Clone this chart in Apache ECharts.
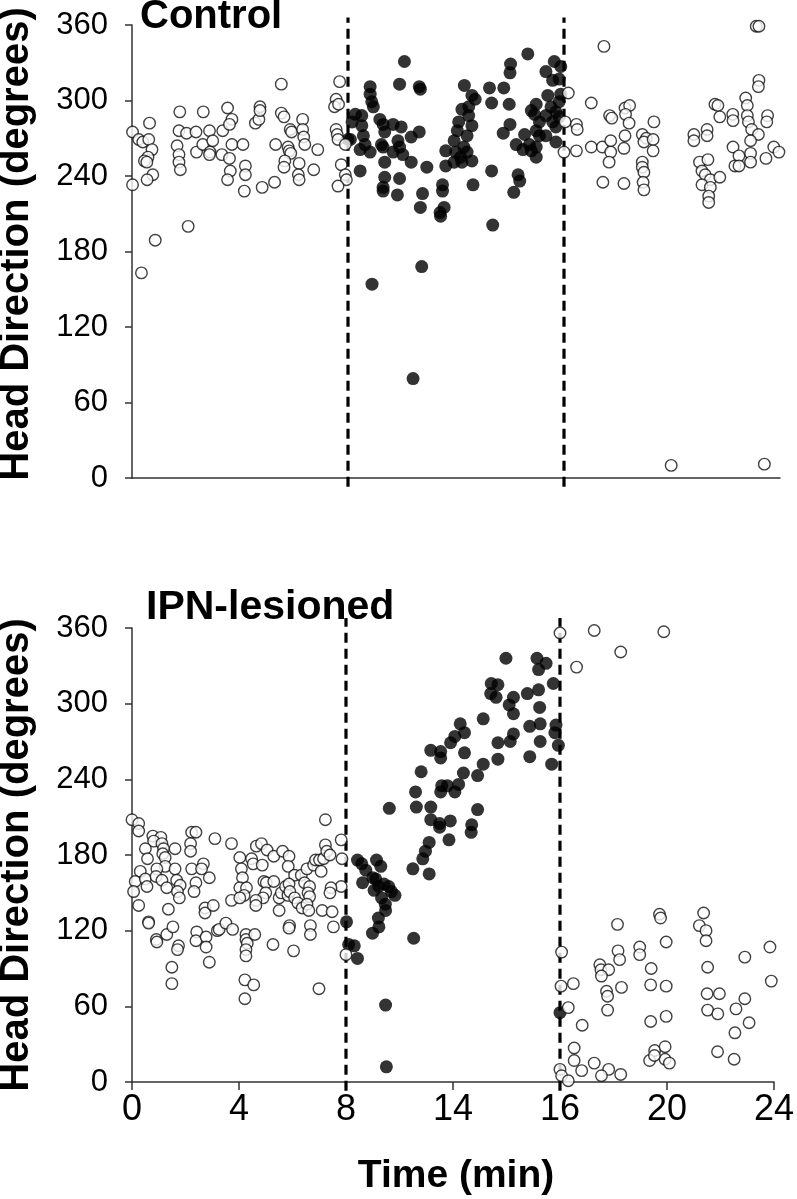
<!DOCTYPE html>
<html>
<head>
<meta charset="utf-8">
<script src="https://cdn.jsdelivr.net/npm/echarts@6/dist/echarts.min.js"></script>
<style>
html,body{margin:0;padding:0;background:#fff;}
#chart{width:797px;height:1199px;}
</style>
</head>
<body>
<div id="chart"></div>
<script>
// ---- Data (time in min, head direction in degrees) ----
const xTickValues = [0, 4, 8, 12, 16, 20, 24];
const xTickLabels = ['0', '4', '8', '14', '16', '20', '24'];
const boundaryTimes = [8, 16];
const boundarySpanTop = [-7, 366];
const boundarySpanBottom = [-7, 368];

const controlOpen = [
[0.02,275],[0.02,233],[0.25,269],[0.4,267],[0.65,282],[0.62,269],[0.74,261],[0.59,255],[0.46,252],[0.55,251],
[0.77,241],[0.56,237],[0.86,189],[0.35,163],[2.08,200],[1.77,291],[1.74,276],[2.02,274],[2.37,275],[1.67,264],
[1.74,257],[1.74,251],[1.79,245],[2.39,259],[2.64,291],[2.62,265],[2.87,276],[2.99,268],[2.89,259],[2.87,257],
[3.33,257],[3.36,276],[3.54,294],[3.7,285],[3.61,281],[3.7,265],[3.61,254],[3.64,244],[3.54,237],[4.11,265],
[4.2,248],[4.2,241],[4.16,228],[4.57,282],[4.7,285],[4.74,295],[4.74,292],[4.82,231],[5.28,235],[5.32,265],
[5.53,313],[5.53,290],[5.63,287],[5.86,277],[5.91,275],[5.78,263],[5.82,260],[5.88,258],[5.66,252],[5.63,247],
[6.32,285],[6.32,277],[6.36,271],[6.4,265],[6.19,250],[6.16,241],[6.19,237],[6.73,245],[6.88,261],[7.69,315],
[7.56,301],[7.5,295],[7.65,297],[7.56,277],[7.6,273],[7.63,269],[7.75,249],[7.9,241],[7.94,237],[7.63,232],
[7.9,265],
[16.16,306],[16.04,283],[16.46,281],[16.49,277],[16.0,259],[16.46,260],[17.48,343],[17.01,298],[17.01,263],[17.42,263],
[17.73,268],[17.73,259],[17.67,251],[17.44,235],[18.22,234],[17.69,288],[17.77,286],[18.26,294],[18.43,296],[18.28,289],
[18.41,282],[18.26,272],[18.22,262],[18.9,273],[19.05,270],[18.96,267],[19.3,269],[19.33,283],[19.3,260],[18.9,251],
[18.9,247],[18.96,243],[18.93,235],[18.96,229],[20.81,273],[20.81,268],[21.3,277],[21.3,272],[21.02,251],[21.33,253],
[21.11,244],[21.23,241],[21.42,237],[21.11,233],[21.42,231],[21.36,224],[21.36,219],[21.77,239],[21.59,297],[21.7,296],
[21.77,287],[22.25,289],[22.26,284],[22.73,302],[22.79,296],[22.79,288],[22.83,283],[22.95,277],[23.2,273],[22.91,268],
[22.26,263],[22.48,256],[22.33,248],[22.48,248],[22.91,258],[22.91,251],[23.54,288],[23.51,283],[23.77,263],[23.96,259],
[23.48,254],[23.22,316],[23.2,311],[23.12,359],[23.22,359],[19.97,10],[23.42,11]
];

const controlFilled = [
[8.0,269],[10.09,331],[9.91,313],[10.64,311],[10.68,309],[8.82,311],[8.82,305],[8.88,299],[8.94,295],[8.27,289],
[8.15,283],[8.51,288],[8.51,280],[8.57,272],[8.63,265],[8.09,269],[8.45,261],[8.82,259],[8.45,244],[9.18,285],
[9.3,281],[9.36,275],[9.67,281],[9.97,279],[9.24,265],[9.3,263],[9.67,259],[9.85,268],[9.91,263],[10.03,257],
[10.34,271],[10.64,275],[10.34,251],[9.36,251],[9.36,239],[9.3,231],[9.3,228],[9.91,238],[9.83,225],[10.92,247],
[10.76,226],[10.68,215],[11.5,233],[11.5,228],[11.56,215],[11.41,211],[11.43,208],[12.63,233],[13.36,201],[13.32,244],
[11.62,260],[11.62,248],[11.93,251],[11.99,259],[11.93,268],[12.05,276],[12.1,283],[12.22,293],[12.47,295],[12.59,304],
[12.71,301],[12.31,312],[12.47,288],[12.59,280],[12.41,272],[12.29,263],[12.17,255],[12.22,251],[12.41,259],[12.59,252],
[13.24,310],[13.77,310],[13.32,298],[13.97,297],[14.0,281],[13.75,274],[14.02,329],[14.0,322],[14.66,337],[14.3,241],
[14.36,236],[14.14,227],[14.54,273],[14.23,265],[14.48,261],[14.72,265],[14.79,292],[14.97,297],[14.91,289],[15.09,283],
[14.97,276],[15.09,272],[14.97,263],[14.79,260],[14.97,255],[15.33,323],[15.64,331],[15.88,327],[15.82,317],[15.58,316],
[15.4,304],[15.52,295],[15.7,291],[15.33,288],[15.82,299],[15.88,305],[15.58,283],[15.7,279],[15.33,272],[15.7,267],
[15.82,287],[8.89,154],[10.73,168],[10.41,79]
];

const lesionOpen = [
[0.0,208],[0.25,205],[0.25,199],[0.78,195],[1.08,194],[0.81,191],[1.12,189],[0.5,185],[1.18,185],[1.61,185],
[1.15,181],[0.58,177],[1.24,178],[1.24,171],[1.61,169],[0.93,169],[0.31,167],[0.12,159],[0.06,151],[0.5,161],
[0.56,155],[0.9,163],[1.12,160],[1.3,154],[1.67,160],[1.8,156],[1.7,151],[1.77,146],[0.25,140],[1.36,137],
[0.62,127],[0.62,126],[0.91,113],[0.93,111],[1.3,117],[1.53,123],[1.74,108],[1.7,105],[1.49,91],[1.49,78],
[2.23,198],[2.39,198],[2.19,189],[2.19,183],[3.1,193],[3.72,189],[2.23,169],[2.67,173],[2.6,169],[2.89,162],
[2.39,158],[2.32,151],[2.73,138],[2.73,134],[3.04,140],[2.42,119],[2.39,112],[2.77,115],[2.77,107],[3.19,120],
[3.26,121],[3.51,126],[3.76,121],[2.89,95],[3.72,144],[4.03,178],[4.09,169],[4.13,162],[4.03,154],[4.28,154],
[4.19,148],[4.03,146],[4.26,117],[4.26,113],[4.31,110],[4.26,105],[4.26,100],[4.59,117],[4.22,81],[4.55,77],
[4.22,66],[4.47,177],[4.53,173],[4.87,172],[4.65,187],[4.84,189],[5.05,184],[5.3,179],[5.63,183],[5.87,179],
[5.84,171],[6.08,164],[4.93,159],[5.02,158],[5.3,159],[5.0,150],[4.9,146],[4.63,144],[4.63,140],[5.5,146],
[5.58,150],[5.74,155],[5.87,157],[5.83,148],[5.9,151],[6.08,146],[6.2,142],[6.36,138],[5.5,136],[5.27,109],
[5.89,124],[5.87,122],[6.04,104],[6.33,164],[6.54,169],[6.45,158],[6.64,155],[6.58,150],[6.64,147],[6.54,141],
[6.61,136],[6.79,172],[6.86,176],[7.01,176],[7.07,167],[7.16,177],[7.23,188],[7.28,183],[7.4,180],[7.23,208],
[7.82,192],[7.85,177],[7.82,155],[7.44,154],[7.4,150],[7.11,136],[7.48,135],[6.67,124],[6.67,117],[7.53,123],
[6.99,74],[8.0,101],
[16.0,356],[17.28,358],[19.88,357],[18.27,341],[16.62,329],[19.72,133],[19.76,130],[21.37,134],[21.21,124],[21.46,120],
[21.46,112],[18.15,125],[19.97,111],[18.98,107],[18.98,101],[18.17,104],[18.23,97],[16.06,103],[23.85,107],[22.91,99],
[17.49,93],[17.53,89],[17.82,89],[17.55,84],[19.41,90],[21.52,91],[23.9,80],[16.04,76],[16.5,78],[17.74,72],
[17.78,68],[18.3,75],[19.39,77],[19.97,76],[21.5,70],[21.96,70],[22.91,66],[16.31,59],[17.78,57],[16.83,45],
[19.39,48],[19.97,52],[21.52,57],[21.9,54],[22.58,58],[23.07,47],[22.54,39],[16.53,27],[16.53,17],[16.81,9],
[17.28,15],[17.82,10],[17.55,5],[18.27,6],[16.0,10],[16.06,5],[16.31,1],[19.54,25],[19.35,17],[19.93,28],
[19.93,18],[20.09,15],[19.53,21],[21.89,24],[22.51,18]
];

const lesionFilled = [
[13.98,336],[15.14,336],[15.48,332],[15.2,327],[15.75,316],[13.43,316],[13.68,315],[13.41,308],[13.61,305],[14.26,305],
[14.1,299],[14.26,292],[14.78,308],[15.2,311],[15.24,297],[14.87,282],[15.26,284],[15.85,283],[15.81,277],[15.94,267],
[15.26,270],[14.87,258],[15.69,252],[14.26,276],[14.14,270],[13.68,269],[13.13,288],[12.27,284],[12.43,277],[12.07,274],
[11.91,269],[11.17,263],[11.54,262],[11.54,257],[12.43,261],[13.13,252],[13.68,256],[12.39,245],[12.92,243],[10.81,246],
[11.58,235],[11.79,235],[12.21,236],[12.07,230],[11.54,230],[10.6,230],[10.63,218],[9.62,217],[11.17,218],[12.92,216],
[11.17,208],[11.5,205],[11.9,207],[11.5,202],[12.7,204],[12.68,198],[11.85,192],[11.11,190],[10.97,183],[10.87,177],
[10.5,169],[11.11,165],
[8.43,176],[8.59,173],[8.74,168],[8.62,158],[9.14,176],[9.3,171],[9.11,161],[9.05,152],[9.23,155],[9.42,157],
[9.6,155],[9.83,148],[9.33,146],[9.48,136],[9.21,130],[9.23,123],[8.99,118],[8.02,127],[8.1,109],[8.31,108],
[8.43,98],[10.53,114],[9.48,61],[9.51,12],[16.0,55],[9.47,141],[9.7,151],[9.0,162]
];

// ---- Chart ----
const FONT = 'Liberation Sans, Arial, sans-serif';
const AXIS_COLOR = '#333';

function xAxisCfg(gridIndex, showLabels) {
  return {
    type: 'value', gridIndex: gridIndex, min: 0, max: 24, interval: 4,
    axisLine: { show: true, onZero: false, lineStyle: { color: AXIS_COLOR, width: 1.5 } },
    axisTick: { show: showLabels, inside: false, length: 8, lineStyle: { color: AXIS_COLOR, width: 1.5 } },
    splitLine: { show: false },
    axisLabel: {
      show: showLabels, color: '#000', fontSize: 36, fontFamily: FONT, margin: 10,
      formatter: function (v) { const i = xTickValues.indexOf(v); return i >= 0 ? xTickLabels[i] : ''; }
    }
  };
}
function yAxisCfg(gridIndex) {
  return {
    type: 'value', gridIndex: gridIndex, min: 0, max: 360, interval: 60,
    axisLine: { show: true, lineStyle: { color: AXIS_COLOR, width: 1.5 } },
    axisTick: { show: true, inside: false, length: 7, lineStyle: { color: AXIS_COLOR, width: 1.5 } },
    splitLine: { show: false },
    axisLabel: { color: '#000', fontSize: 31, fontFamily: FONT, margin: 24 }
  };
}

function boundarySeries(gridIndex, span) {
  return boundaryTimes.map(function (t) {
    return {
      type: 'line', xAxisIndex: gridIndex, yAxisIndex: gridIndex,
      data: [[t, span[0]], [t, span[1]]],
      symbol: 'none', clip: false, silent: true, z: 1,
      lineStyle: { color: '#000', width: 3.2, type: [10, 6] }
    };
  });
}

function openSeries(gridIndex, data) {
  return {
    type: 'scatter', xAxisIndex: gridIndex, yAxisIndex: gridIndex, data: data,
    symbol: 'circle', symbolSize: 11.5, clip: false, z: 4,
    itemStyle: { color: '#fff', borderColor: '#111', borderWidth: 1.4 }
  };
}
function filledSeries(gridIndex, data) {
  return {
    type: 'scatter', xAxisIndex: gridIndex, yAxisIndex: gridIndex, data: data,
    symbol: 'circle', symbolSize: 13, clip: false, z: 3,
    itemStyle: { color: '#000', borderWidth: 0 }
  };
}

const chart = echarts.init(document.getElementById('chart'), null, { renderer: 'canvas' });
chart.setOption({
  animation: false,
  backgroundColor: '#fff',
  grid: [
    { left: 132, top: 25, width: 648, height: 453 },
    { left: 132, top: 628, width: 648, height: 454 }
  ],
  xAxis: [xAxisCfg(0, false), xAxisCfg(1, true)],
  yAxis: [yAxisCfg(0), yAxisCfg(1)],
  series: [].concat(
    boundarySeries(0, boundarySpanTop),
    boundarySeries(1, boundarySpanBottom),
    [filledSeries(0, controlFilled), openSeries(0, controlOpen),
     filledSeries(1, lesionFilled), openSeries(1, lesionOpen)]
  ),
  graphic: [
    { type: 'text', x: 140, y: 17, style: { text: 'Control', fill: '#000', font: 'bold 40px ' + FONT, textAlign: 'left', textVerticalAlign: 'middle' } },
    { type: 'text', x: 146, y: 608, style: { text: 'IPN-lesioned', fill: '#000', font: 'bold 41px ' + FONT, textAlign: 'left', textVerticalAlign: 'middle' } },
    { type: 'text', x: 17, y: 244, rotation: Math.PI / 2, style: { text: 'Head Direction (degrees)', fill: '#000', font: 'bold 40px ' + FONT, textAlign: 'center', textVerticalAlign: 'middle' } },
    { type: 'text', x: 17, y: 855, rotation: Math.PI / 2, style: { text: 'Head Direction (degrees)', fill: '#000', font: 'bold 40px ' + FONT, textAlign: 'center', textVerticalAlign: 'middle' } },
    { type: 'text', x: 456, y: 1176, style: { text: 'Time (min)', fill: '#000', font: 'bold 39px ' + FONT, textAlign: 'center', textVerticalAlign: 'middle' } }
  ]
});
</script>
</body>
</html>
